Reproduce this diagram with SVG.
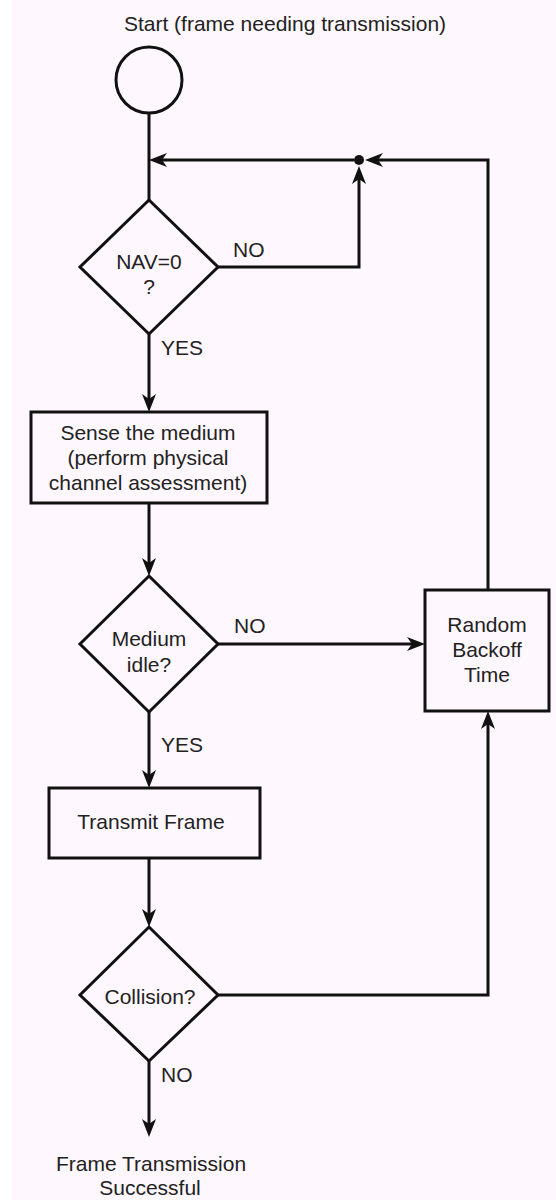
<svg xmlns="http://www.w3.org/2000/svg" width="556" height="1200" viewBox="0 0 556 1200">
<style>
.shape{fill:none;stroke:#111;stroke-width:3;stroke-linejoin:miter}
.conn{fill:none;stroke:#111;stroke-width:3}
.t{font-family:"Liberation Sans",Arial,Helvetica,sans-serif;font-size:21px;fill:#222;text-anchor:middle}
.lbl{font-family:"Liberation Sans",Arial,Helvetica,sans-serif;font-size:21px;fill:#222}
</style>
<defs>
<marker id="arr" markerUnits="userSpaceOnUse" markerWidth="20" markerHeight="16" viewBox="0 -8 20 16" refX="8" refY="0" orient="auto" overflow="visible">
<path d="M0,-7 L18,0 L0,7 L5,0 Z" fill="#111"/>
</marker>
</defs>
<rect x="0" y="0" width="556" height="1200" fill="#ffffff"/>
<rect x="12" y="0" width="544" height="1200" fill="#fef7fd"/>

<g id="start">
<text class="t" x="285" y="31">Start (frame needing transmission)</text>
<circle class="shape" cx="149" cy="80" r="33"/>
</g>

<g id="nav">
<polygon class="shape" points="149,200 218,267 149,334 80,267"/>
<text class="t" x="149" y="269">NAV=0</text>
<text class="t" x="149" y="294">?</text>
</g>

<g id="sense">
<rect class="shape" x="31" y="412" width="236" height="91"/>
<text class="t" x="148" y="440">Sense the medium</text>
<text class="t" x="148" y="465">(perform physical</text>
<text class="t" x="148" y="490">channel assessment)</text>
</g>

<g id="idle">
<polygon class="shape" points="149,576 218,644 149,712 80,644"/>
<text class="t" x="149" y="646">Medium</text>
<text class="t" x="149" y="672">idle?</text>
</g>

<g id="backoff">
<rect class="shape" x="425" y="590" width="124" height="121"/>
<text class="t" x="487" y="632">Random</text>
<text class="t" x="487" y="657">Backoff</text>
<text class="t" x="487" y="682">Time</text>
</g>

<g id="transmit">
<rect class="shape" x="49" y="788" width="211" height="70"/>
<text class="t" x="151" y="829">Transmit Frame</text>
</g>

<g id="collision">
<polygon class="shape" points="149,927 218,995 149,1061 80,995"/>
<text class="t" x="150" y="1004">Collision?</text>
</g>

<g id="success">
<text class="t" x="151" y="1171">Frame Transmission</text>
<text class="t" x="150" y="1195">Successful</text>
</g>

<g id="connectors">
<line class="conn" x1="149" y1="113" x2="149" y2="200"/>
<circle cx="359" cy="160" r="5" fill="#111"/>
<line class="conn" x1="354" y1="160" x2="159" y2="160" marker-end="url(#arr)"/>
<polyline class="conn" points="218,267 359,267 359,176" marker-end="url(#arr)"/>
<polyline class="conn" points="488,590 488,160 375,160" marker-end="url(#arr)"/>
<line class="conn" x1="149" y1="334" x2="149" y2="402" marker-end="url(#arr)"/>
<line class="conn" x1="149" y1="503" x2="149" y2="566" marker-end="url(#arr)"/>
<line class="conn" x1="218" y1="644" x2="415" y2="644" marker-end="url(#arr)"/>
<line class="conn" x1="149" y1="712" x2="149" y2="778" marker-end="url(#arr)"/>
<line class="conn" x1="149" y1="858" x2="149" y2="917" marker-end="url(#arr)"/>
<polyline class="conn" points="218,995 488,995 488,721" marker-end="url(#arr)"/>
<line class="conn" x1="149" y1="1061" x2="149" y2="1127" marker-end="url(#arr)"/>
<text class="lbl" x="233" y="257">NO</text>
<text class="lbl" x="161" y="355">YES</text>
<text class="lbl" x="234" y="633">NO</text>
<text class="lbl" x="161" y="752">YES</text>
<text class="lbl" x="161" y="1082">NO</text>
</g>
</svg>
